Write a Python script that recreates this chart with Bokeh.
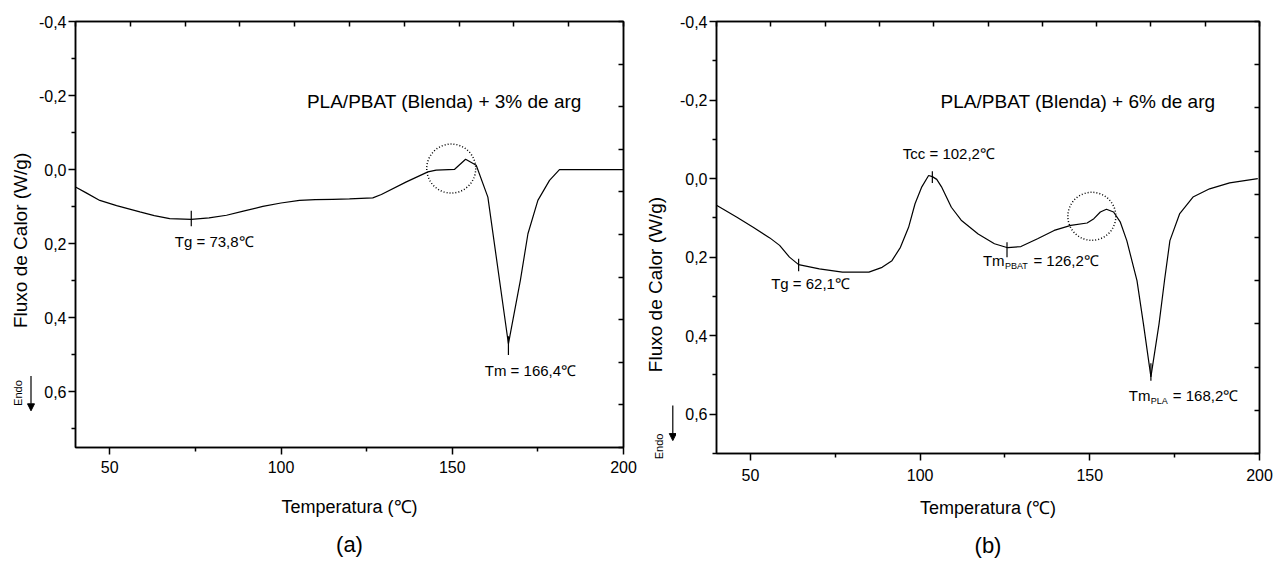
import numpy as np
from bokeh.plotting import figure
from bokeh.models import (Range1d, LinearAxis, FixedTicker, CustomJSTickFormatter,
                          Title, Arrow, NormalHead)
from bokeh.layouts import row
from bokeh.core.properties import value
from bokeh.embed import file_html
from bokeh.resources import INLINE

FONT = "Liberation Sans"

# ---------------- data: panel (a) ----------------
temp_a = [40, 43, 47.1, 52, 58.8, 63, 67.5, 73.8, 79, 84.1, 89, 94.7, 100, 105.4, 110,
          115.1, 120, 126.8, 129.3, 136.6, 142.9, 145.3, 150.7, 153.9, 157.0, 160.4,
          166.4, 169.9, 172.1, 175.0, 178.4, 181.3, 200]
flux_a = [0.047, 0.062, 0.083, 0.097, 0.114, 0.124, 0.132, 0.134, 0.130, 0.123, 0.112,
          0.099, 0.090, 0.083, 0.081, 0.080, 0.079, 0.076, 0.067, 0.033, 0.006, 0.001,
          -0.001, -0.028, -0.012, 0.074, 0.470, 0.298, 0.173, 0.083, 0.029, 0.0, 0.0]
mark_a_x = [73.8, 166.4]
mark_a_y0 = [0.111, 0.45]
mark_a_y1 = [0.153, 0.50]
lab_a_text = ["Tg = 73,8℃", "Tm = 166,4℃"]
lab_a_x = [69.0, 159.5]
lab_a_y = [0.193, 0.543]
circ_a_x = [149.7]
circ_a_y = [-0.003]
title_a = "PLA/PBAT (Blenda) + 3% de arg"

# ---------------- data: panel (b) ----------------
temp_b = [40, 45.9, 50.8, 55.7, 58.6, 61.5, 64.2, 70.3, 77.1, 84.9, 88.8, 91.7, 94.2,
          96.6, 98.5, 100.5, 102.5, 103.6, 104.9, 106.3, 109.2, 112.1, 117.1, 121.9,
          125.8, 129.7, 134.6, 139.5, 144.4, 149.2, 151.2, 153.1, 154.9, 157.0, 159.0,
          160.9, 163.9, 165.8, 168.0, 170.4, 172.0, 173.6, 176.5, 180.4, 185.3, 191.2,
          199.5]
flux_b = [0.068, 0.098, 0.124, 0.151, 0.170, 0.200, 0.219, 0.230, 0.238, 0.238, 0.226,
          0.209, 0.175, 0.124, 0.064, 0.021, -0.008, -0.005, 0.002, 0.021, 0.073, 0.106,
          0.141, 0.166, 0.176, 0.173, 0.153, 0.132, 0.119, 0.113, 0.102, 0.085, 0.078,
          0.085, 0.111, 0.158, 0.260, 0.370, 0.505, 0.370, 0.260, 0.158, 0.089, 0.047,
          0.026, 0.011, 0.0]
mark_b_x = [64.2, 103.6, 125.6, 168.0]
mark_b_y0 = [0.204, -0.019, 0.162, 0.47]
mark_b_y1 = [0.236, 0.011, 0.200, 0.515]
lab_b_text = ["Tg = 62,1℃", "Tcc = 102,2℃"]
lab_b_x = [56.1, 94.9]
lab_b_y = [0.268, -0.064]
sub_b_main = ["Tm", "Tm"]
sub_b_sub = ["PBAT", "PLA"]
sub_b_rest = ["= 126,2℃", "= 168,2℃"]
sub_b_x = [118.5, 161.5]
sub_b_y = [0.209, 0.553]
sub_b_off = [23.5, 17.0]
circ_b_x = [150.6]
circ_b_y = [0.096]
title_b = "PLA/PBAT (Blenda) + 6% de arg"

y_major = [-0.4, -0.2, 0.0, 0.2, 0.4, 0.6]
y_minor = [-0.3, -0.1, 0.1, 0.3, 0.5, 0.7]
x_major = [50, 100, 150, 200]
x_minor = [75, 125, 175]
y_title = "Fluxo de Calor (W/g)"
x_title = "Temperatura (℃)"


def make_panel(width, height, bl, br, bb, y_bottom, tick_standoff, x_lab_standoff,
               tag, tag_standoff):
    p = figure(width=width, height=height, x_range=Range1d(40, 200),
               y_range=Range1d(y_bottom, -0.4), output_backend="svg",
               toolbar_location=None, min_border_left=bl, min_border_right=br,
               min_border_top=21, min_border_bottom=bb)
    p.xgrid.visible = False
    p.ygrid.visible = False
    p.outline_line_color = "black"
    p.outline_line_width = 1.5
    p.background_fill_color = "white"
    p.border_fill_color = "white"

    fmt = CustomJSTickFormatter(code="var s = tick.toFixed(1).replace('.', ','); return s == '-0,0' ? '0,0' : s;")
    ya = p.yaxis[0]
    ya.ticker = FixedTicker(ticks=y_major, minor_ticks=y_minor)
    ya.formatter = fmt
    xa = p.xaxis[0]
    xa.ticker = FixedTicker(ticks=x_major, minor_ticks=x_minor)
    xa.axis_label = x_title
    for ax in (xa, ya):
        ax.axis_line_width = 1.5
        ax.major_tick_line_width = 1.5
        ax.minor_tick_line_width = 1.5
        ax.major_tick_out = 7
        ax.major_tick_in = 0
        ax.minor_tick_out = 4
        ax.minor_tick_in = 0
        ax.major_label_text_font = FONT
        ax.major_label_text_font_size = "16px"
        ax.axis_label_text_font = FONT
        ax.axis_label_text_font_size = "18px"
        ax.axis_label_text_font_style = "normal"
        ax.major_label_text_color = "black"
        ax.axis_label_text_color = "black"
    ya.major_label_standoff = 2
    xa.major_label_standoff = tick_standoff
    xa.axis_label_standoff = x_lab_standoff

    # mirrored frame axes with ten equal divisions
    p.extra_x_ranges = {"top": Range1d(0, 10)}
    p.extra_y_ranges = {"right": Range1d(0, 10)}
    ta = LinearAxis(x_range_name="top")
    ra = LinearAxis(y_range_name="right")
    for ax in (ta, ra):
        ax.ticker = FixedTicker(ticks=list(range(11)), minor_ticks=[])
        ax.formatter = CustomJSTickFormatter(code="return '';")
        ax.major_label_text_font_size = "0px"
        ax.major_label_standoff = 0
        ax.major_tick_in = 5
        ax.major_tick_out = 0
        ax.minor_tick_in = 0
        ax.minor_tick_out = 0
        ax.axis_line_width = 1.5
        ax.major_tick_line_width = 1.5
    p.add_layout(ta, "above")
    p.add_layout(ra, "right")

    t = Title(text=tag, align="center", text_font=FONT, text_font_size="22px",
              text_font_style="normal", text_color="black", standoff=tag_standoff)
    p.add_layout(t, "below")
    return p


def make_strip(width, height, bb, y_range, title_x, title_y, endo_x, endo_y, arr_x,
               arr_y0, arr_y1):
    # narrow strip left of a panel holding the vertical y title and the "Endo" arrow
    s = figure(width=width, height=height, x_range=Range1d(0, width), y_range=y_range,
               output_backend="svg", toolbar_location=None, x_axis_type=None,
               y_axis_type=None, min_border_left=0, min_border_right=0,
               min_border_top=21, min_border_bottom=bb)
    s.xgrid.visible = False
    s.ygrid.visible = False
    s.outline_line_color = None
    s.text(x=[title_x], y=[title_y], text=[y_title], angle=np.pi / 2,
           text_font=value(FONT), text_font_size="19px", text_align="center",
           text_baseline="middle")
    s.text(x=[endo_x], y=[endo_y], text=["Endo"], angle=np.pi / 2,
           text_font=value(FONT), text_font_size="11px", text_align="center",
           text_baseline="middle")
    s.add_layout(Arrow(end=NormalHead(size=7, line_color="black", fill_color="black",
                                      line_width=1),
                       x_start=arr_x, y_start=arr_y0, x_end=arr_x, y_end=arr_y1,
                       line_color="black", line_width=1.2))
    return s


# ---------------- panel (a) ----------------
pa = make_panel(605, 567, 40, 17, 120, 0.75, 6, 21, "(a)", 20)
sa = make_strip(35, 567, 120, pa.y_range, 20, 0.191, 17.5, 0.603, 30.5, 0.557, 0.651)
pa.line(temp_a, flux_a, line_color="black", line_width=1.2)
pa.segment(x0=mark_a_x, y0=mark_a_y0, x1=mark_a_x, y1=mark_a_y1, line_color="black",
           line_width=1.2)
pa.text(x=lab_a_x, y=lab_a_y, text=lab_a_text, text_font=value(FONT),
        text_font_size="15px", text_baseline="middle", text_align="left")
pa.text(x=[187.8], y=[-0.184], text=[title_a], text_font=value(FONT),
        text_font_size="19px", text_baseline="middle", text_align="right")
pa.scatter(circ_a_x, circ_a_y, marker="circle", size=49, fill_color=None,
           line_color="black", line_width=1.5, line_dash="1 2")

# ---------------- panel (b) ----------------
pb = make_panel(599, 567, 37, 16, 114, 0.70, 8, 14, "(b)", 20)
# strip (b) has a taller frame (bottom border 90) with the same vertical scale as (b)
sb = make_strip(36, 567, 90, Range1d(0.761, -0.4), 15, 0.2697, 18, 0.682, 32.3,
                0.578, 0.667)
pb.line(temp_b, flux_b, line_color="black", line_width=1.2)
pb.segment(x0=mark_b_x, y0=mark_b_y0, x1=mark_b_x, y1=mark_b_y1, line_color="black",
           line_width=1.2)
pb.text(x=lab_b_x, y=lab_b_y, text=lab_b_text, text_font=value(FONT),
        text_font_size="15px", text_baseline="middle", text_align="left")
pb.text(x=sub_b_x, y=sub_b_y, text=sub_b_main, text_font=value(FONT),
        text_font_size="15px", text_baseline="middle", text_align="left")
pb.text(x=sub_b_x, y=sub_b_y, text=sub_b_sub, text_font=value(FONT),
        text_font_size="9px", text_baseline="middle", text_align="left",
        x_offset=22, y_offset=5)
for xx, yy, rest, off in zip(sub_b_x, sub_b_y, sub_b_rest, sub_b_off):
    pb.text(x=[xx], y=[yy], text=[rest], text_font=value(FONT),
            text_font_size="15px", text_baseline="middle", text_align="left",
            x_offset=22 + off + 5)
pb.text(x=[187.0], y=[-0.197], text=[title_b], text_font=value(FONT),
        text_font_size="19px", text_baseline="middle", text_align="right")
pb.scatter(circ_b_x, circ_b_y, marker="circle", size=48, fill_color=None,
           line_color="black", line_width=1.5, line_dash="1 2")

layout = row(row(sa, pa, spacing=0), row(sb, spacing=0), row(pb, spacing=0),
             spacing=0)
open("out.html", "w").write(file_html(layout, INLINE))
